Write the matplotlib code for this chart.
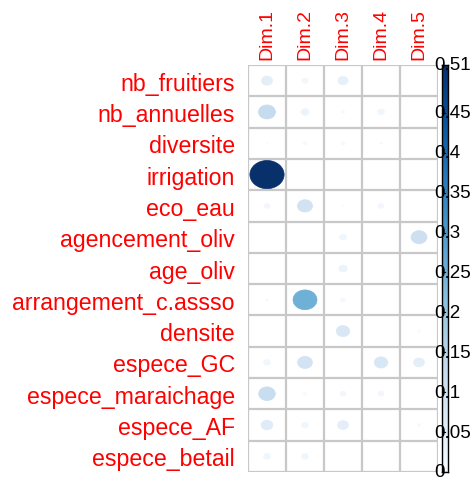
import numpy as np
import matplotlib
matplotlib.use("Agg")
import matplotlib.pyplot as plt
from matplotlib.patches import Ellipse

rows = ["nb_fruitiers", "nb_annuelles", "diversite", "irrigation", "eco_eau",
        "agencement_oliv", "age_oliv", "arrangement_c.assso", "densite",
        "espece_GC", "espece_maraichage", "espece_AF", "espece_betail"]
cols = ["Dim.1", "Dim.2", "Dim.3", "Dim.4", "Dim.5"]

dim1 = [0.053, 0.126, 0.001, 0.510, 0.015, 0.000, 0.000, 0.003, 0.000, 0.020, 0.120, 0.060, 0.020]
dim2 = [0.016, 0.028, 0.005, 0.000, 0.098, 0.000, 0.000, 0.250, 0.000, 0.095, 0.005, 0.020, 0.020]
dim3 = [0.044, 0.005, 0.008, 0.000, 0.001, 0.020, 0.030, 0.010, 0.078, 0.000, 0.015, 0.050, 0.000]
dim4 = [0.000, 0.020, 0.003, 0.000, 0.015, 0.000, 0.000, 0.000, 0.000, 0.080, 0.015, 0.000, 0.000]
dim5 = [0.000, 0.000, 0.000, 0.000, 0.000, 0.110, 0.000, 0.000, 0.003, 0.050, 0.000, 0.005, 0.000]

cbar_ticks = [0, 0.05, 0.1, 0.15, 0.2, 0.25, 0.3, 0.35, 0.4, 0.45, 0.51]
cbar_labels = ["0", "0.05", "0.1", "0.15", "0.2", "0.25", "0.3", "0.35", "0.4", "0.45", "0.51"]
vmax = 0.51

plt.rcParams['font.family'] = ['Liberation Sans', 'DejaVu Sans']

W, H = 472, 481
fig = plt.figure(figsize=(W / 100, H / 100), dpi=100)

gx0, gx1, gy0, gy1 = 248, 438, 66, 473
ax = fig.add_axes([gx0 / W, 1 - gy1 / H, (gx1 - gx0) / W, (gy1 - gy0) / H])
ax.set_xlim(0, len(cols))
ax.set_ylim(len(rows), 0)

cmap = plt.get_cmap('Blues')
data = np.array([dim1, dim2, dim3, dim4, dim5]).T
for i in range(len(rows)):
    for j in range(len(cols)):
        v = data[i, j]
        if v <= 0:
            continue
        d = 0.9 * np.sqrt(v / vmax)
        c = cmap(v / vmax)
        ax.add_patch(Ellipse((j + 0.5, i + 0.5), d, d, facecolor=c, edgecolor=c, lw=0.5, zorder=3))

for k in range(len(rows) + 1):
    ax.axhline(k, color='#c8c8c8', lw=1.6, zorder=2)
for k in range(len(cols) + 1):
    ax.axvline(k, color='#c8c8c8', lw=1.6, zorder=2)
for s in ax.spines.values():
    s.set_visible(False)

ax.set_yticks(np.arange(len(rows)) + 0.5)
ax.set_yticklabels(rows, color='red', fontsize=16.7)
ax.set_xticks(np.arange(len(cols)) + 0.5)
ax.set_xticklabels(cols, color='red', fontsize=14, rotation=90)
ax.xaxis.tick_top()
ax.tick_params(axis='y', length=0, pad=9.5)
ax.tick_params(axis='x', length=0, pad=4)

# colorbar
cx0, cx1 = 442, 448
cax = fig.add_axes([cx0 / W, 1 - gy1 / H, (cx1 - cx0) / W, (gy1 - gy0) / H])
grad = np.linspace(0, 1, 256).reshape(-1, 1)
cax.imshow(grad, aspect='auto', cmap=cmap, origin='lower', extent=[0, 1, 0, vmax])
cax.set_xlim(0, 1)
cax.set_ylim(0, vmax)
cax.set_xticks([])
cax.set_yticks([])
for s in cax.spines.values():
    s.set_color('black')
    s.set_linewidth(1.0)
for t in cbar_ticks:
    cax.plot([0, 0.45], [t, t], color='black', lw=0.8, clip_on=False)
for t, lab in zip(cbar_ticks, cbar_labels):
    y = 1 - (gy1 - (t / vmax) * (gy1 - gy0)) / H
    fig.text(434 / W, y, lab, fontsize=13.5, color='black', ha='left', va='center', zorder=5)

fig.savefig("out.png", dpi=100, facecolor='white')
